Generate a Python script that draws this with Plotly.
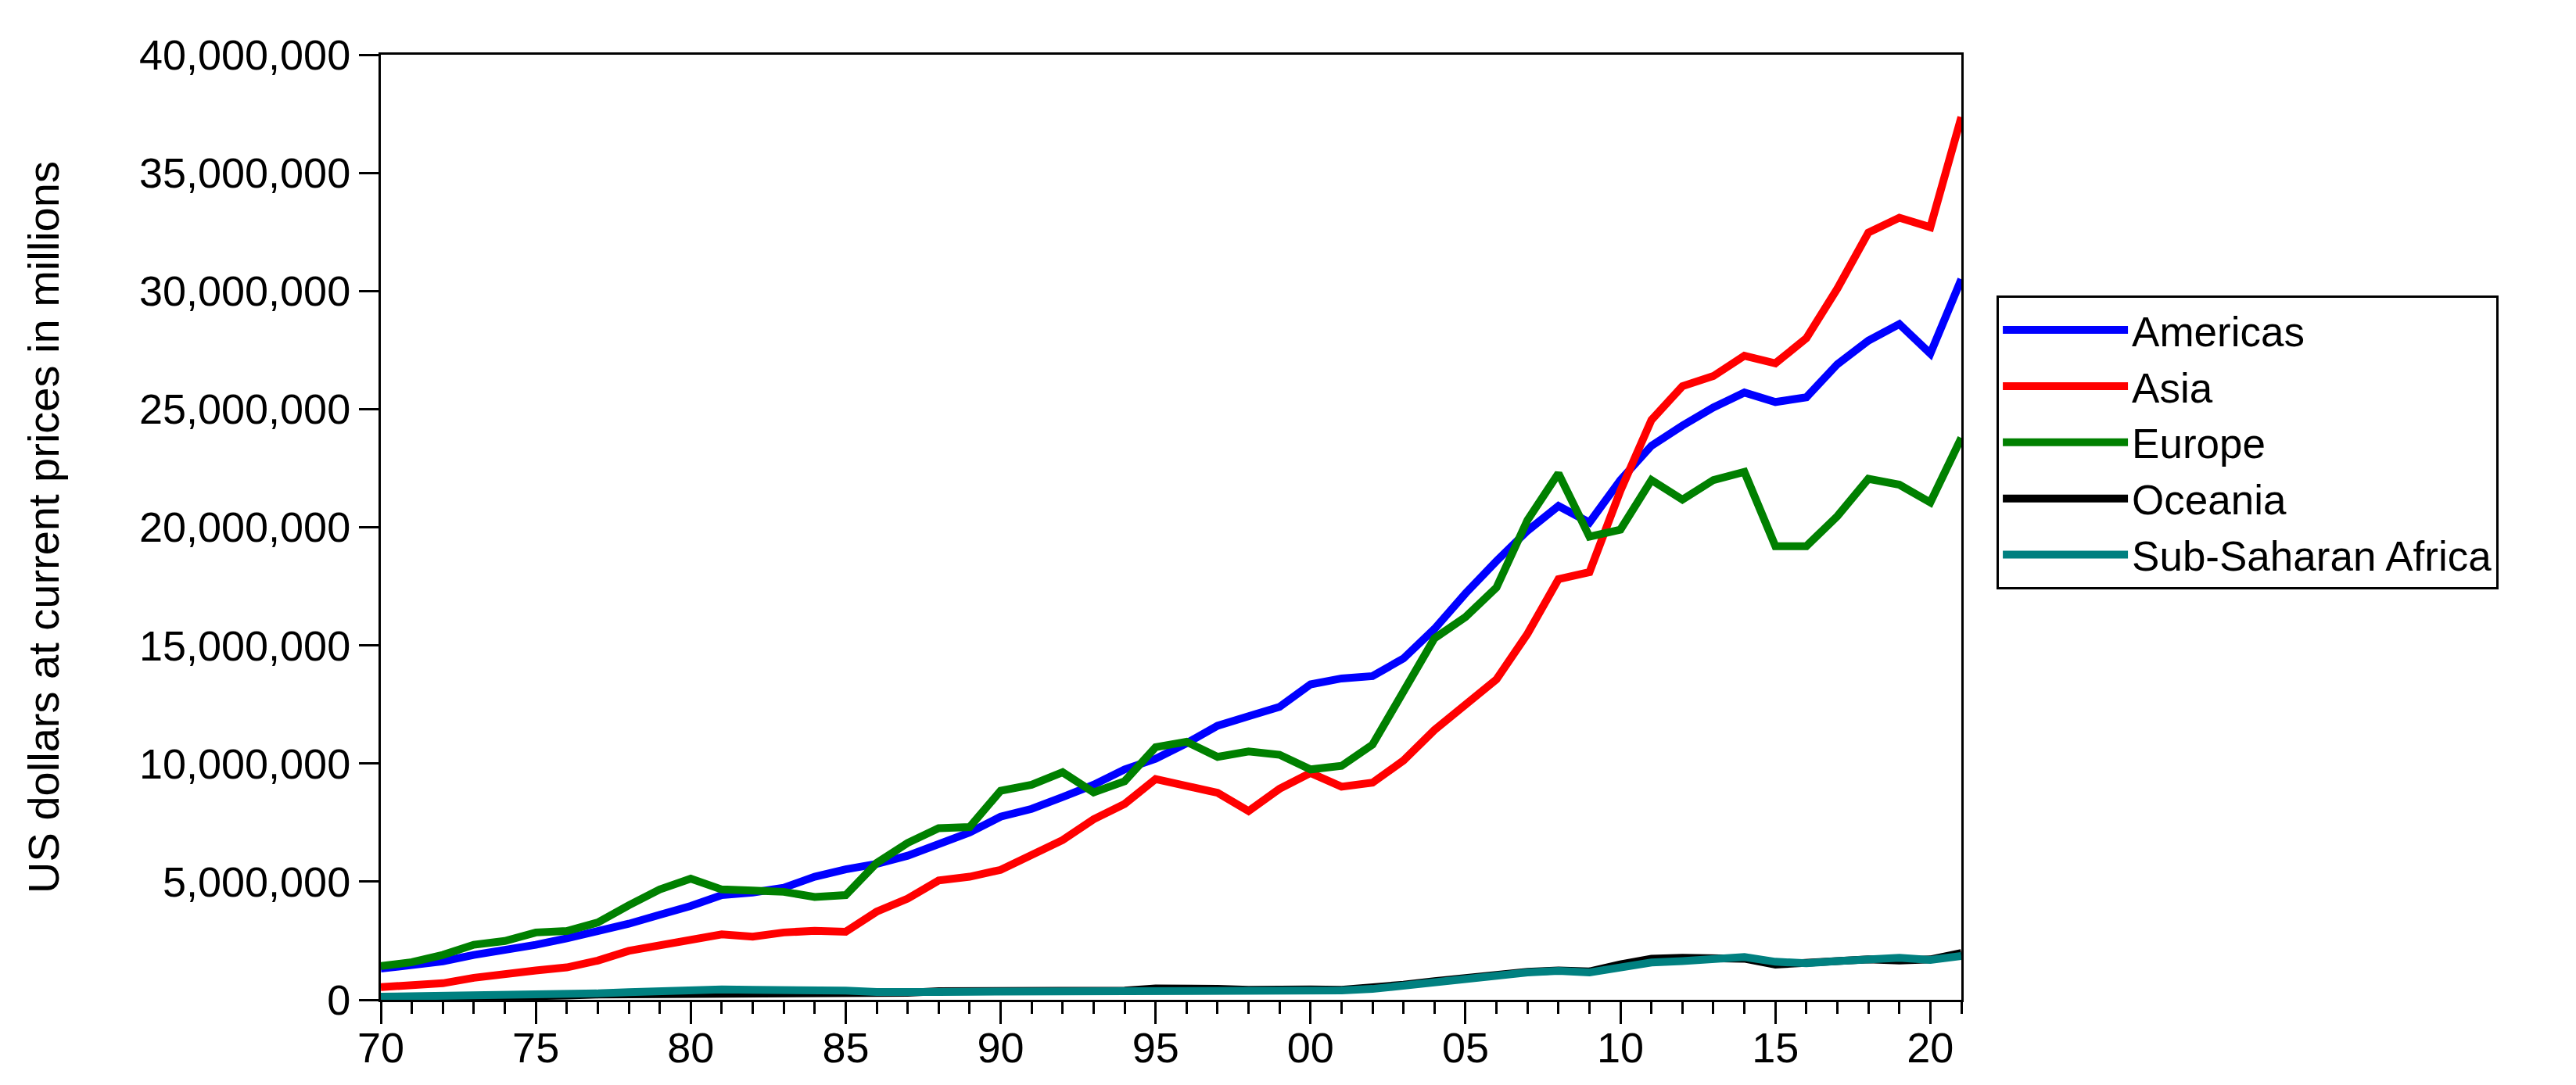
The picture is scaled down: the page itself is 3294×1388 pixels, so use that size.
import plotly.graph_objects as go

years = list(range(1970, 2022))

americas = [1.32, 1.48, 1.63, 1.90, 2.10, 2.33, 2.60, 2.88, 3.22, 3.60,
            3.97, 4.43, 4.54, 4.74, 5.21, 5.52, 5.75, 6.10, 6.58, 7.08,
            7.75, 8.08, 8.58, 9.10, 9.75, 10.20, 10.86, 11.60, 12.00, 12.40,
            13.35, 13.60, 13.70, 14.45, 15.70, 17.20, 18.57, 19.85, 20.90, 20.20,
            22.00, 23.45, 24.30, 25.07, 25.70, 25.30, 25.50, 26.90, 27.90, 28.60,
            27.35, 30.50]
asia = [0.54, 0.58, 0.70, 0.93, 1.12, 1.24, 1.37, 1.66, 2.07, 2.30,
        2.57, 2.77, 2.67, 2.85, 2.92, 2.88, 3.73, 4.28, 5.05, 5.21,
        5.50, 6.09, 6.76, 7.64, 8.29, 9.34, 9.08, 8.76, 7.99, 8.93,
        9.60, 9.02, 9.19, 10.13, 11.42, 12.47, 13.56, 15.49, 17.80, 18.10,
        21.55, 24.54, 25.97, 26.40, 27.26, 26.94, 28.00, 30.10, 32.47, 33.10,
        32.70, 37.36]
europe = [1.43, 1.59, 1.90, 2.33, 2.49, 2.85, 2.91, 3.27, 4.00, 4.67,
          5.13, 4.67, 4.62, 4.57, 4.35, 4.43, 5.79, 6.64, 7.26, 7.31,
          8.85, 9.10, 9.63, 8.78, 9.25, 10.69, 10.92, 10.28, 10.51, 10.37,
          9.75, 9.90, 10.80, 13.12, 15.30, 16.20, 17.45, 20.30, 22.28, 19.60,
          19.90, 22.00, 21.17, 22.00, 22.34, 19.20, 19.20, 20.47, 22.05, 21.80,
          21.05, 23.78]
oceania = [0.05, 0.06, 0.07, 0.09, 0.11, 0.13, 0.18, 0.22, 0.23, 0.24,
           0.25, 0.25, 0.25, 0.24, 0.25, 0.24, 0.28, 0.30, 0.36, 0.37,
           0.36, 0.35, 0.34, 0.34, 0.39, 0.48, 0.51, 0.46, 0.42, 0.47,
           0.44, 0.42, 0.51, 0.64, 0.79, 0.92, 1.07, 1.18, 1.24, 1.20,
           1.50, 1.74, 1.78, 1.78, 1.74, 1.49, 1.54, 1.64, 1.71, 1.66,
           1.71, 1.98]
ssa = [0.13, 0.14, 0.15, 0.16, 0.18, 0.20, 0.23, 0.27, 0.32, 0.37,
       0.45, 0.44, 0.42, 0.42, 0.42, 0.39, 0.33, 0.30, 0.33, 0.34,
       0.34, 0.34, 0.35, 0.34, 0.35, 0.39, 0.40, 0.41, 0.40, 0.40,
       0.40, 0.40, 0.46, 0.58, 0.75, 0.89, 1.02, 1.16, 1.22, 1.16,
       1.37, 1.58, 1.64, 1.73, 1.81, 1.61, 1.55, 1.64, 1.73, 1.78,
       1.69, 1.85]

series_names = ["Americas", "Asia", "Europe", "Oceania", "Sub-Saharan Africa"]
series_values = [americas, asia, europe, oceania, ssa]
series_colors = ["#0000FF", "#FF0000", "#008000", "#000000", "#008080"]

x_tickvals = [1970, 1975, 1980, 1985, 1990, 1995, 2000, 2005, 2010, 2015, 2020]
x_ticktext = ["70", "75", "80", "85", "90", "95", "00", "05", "10", "15", "20"]
y_tickvals = [0, 5e6, 10e6, 15e6, 20e6, 25e6, 30e6, 35e6, 40e6]
y_ticktext = ["0", "5,000,000", "10,000,000", "15,000,000", "20,000,000",
              "25,000,000", "30,000,000", "35,000,000", "40,000,000"]

FONT = "Liberation Sans, Arial, sans-serif"

fig = go.Figure()
for name, vals, col in zip(series_names, series_values, series_colors):
    fig.add_trace(go.Scatter(
        x=years, y=[v * 1e6 for v in vals], mode="lines", name=name,
        line=dict(color=col, width=10),
    ))

fig.update_layout(
    width=3294, height=1388,
    paper_bgcolor="white", plot_bgcolor="white",
    margin=dict(l=479, r=794, t=62, b=117, autoexpand=False),
    font=dict(family=FONT, size=54, color="black"),
    showlegend=True,
    legend=dict(
        x=1.0223, y=0.5897, xanchor="left", yanchor="middle",
        bordercolor="black", borderwidth=3, bgcolor="white",
        font=dict(family=FONT, size=53, color="black"),
        itemwidth=160, tracegroupgap=0,
    ),
)
fig.update_xaxes(
    range=[1970, 2021], tickmode="array", tickvals=x_tickvals, ticktext=x_ticktext,
    showline=True, linecolor="black", linewidth=3, mirror=True,
    ticks="outside", ticklen=28, tickwidth=3, tickcolor="black",
    showgrid=False, zeroline=False, ticklabelstandoff=-16,
    tickfont=dict(family=FONT, size=54, color="black"),
    minor=dict(tick0=1970, dtick=1, ticks="outside", ticklen=15, tickwidth=3,
               tickcolor="black", showgrid=False),
)
fig.update_yaxes(
    range=[0, 40e6], tickmode="array", tickvals=y_tickvals, ticktext=y_ticktext,
    showline=True, linecolor="black", linewidth=3, mirror=True,
    ticks="outside", ticklen=25, tickwidth=3, tickcolor="black",
    showgrid=False, zeroline=False,
    tickfont=dict(family=FONT, size=54, color="black"),
    title=dict(text="US dollars at current prices in millions",
               font=dict(family=FONT, size=56, color="black"), standoff=85),
)

fig.write_html("out.html")
